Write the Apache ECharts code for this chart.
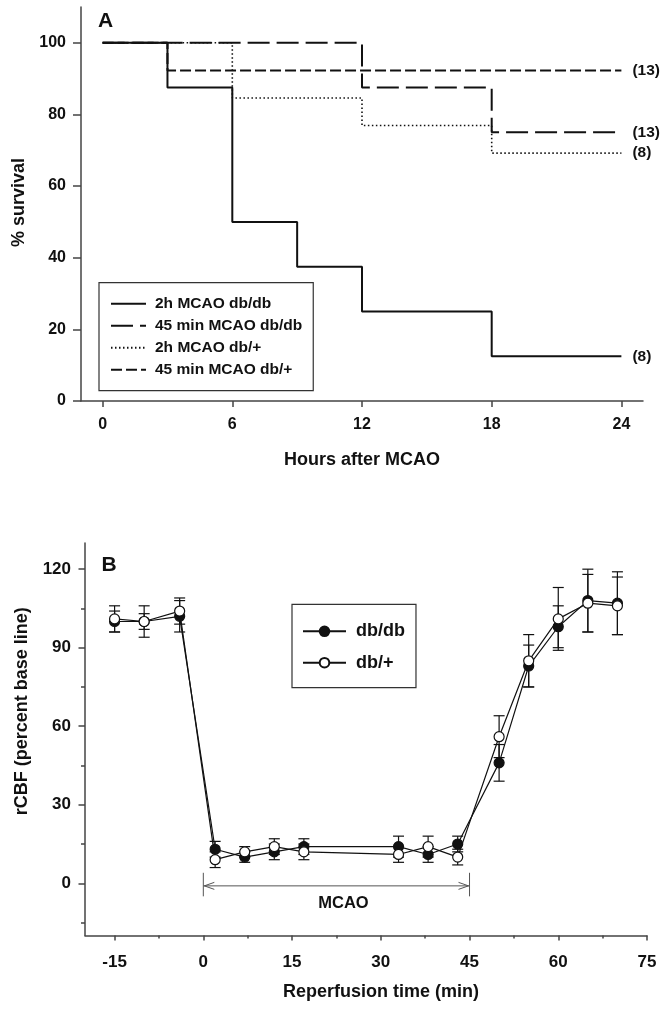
<!DOCTYPE html>
<html><head><meta charset="utf-8">
<script src="https://cdn.jsdelivr.net/npm/echarts@6/dist/echarts.min.js"></script>
<style>html,body{margin:0;padding:0;background:#fff}#c{width:666px;height:1010px}</style>
</head><body><div id="c"></div>
<script>
// ---------- Panel A : survival ----------
const hoursTicks = [0, 6, 12, 18, 24];
const survivalTicks = [0, 20, 40, 60, 80, 100];
const seriesNamesA = ['2h MCAO db/db', '45 min MCAO db/db', '2h MCAO db/+', '45 min MCAO db/+'];
const surv2hDbDb = [[0, 100], [3, 87.5], [6, 50], [9, 37.5], [12, 25], [18, 12.5], [24, 12.5]];
const surv45DbDb = [[0, 100], [12, 87.5], [18, 75], [24, 75]];
const surv2hDbPlus = [[0, 100], [6, 84.6], [12, 76.9], [18, 69.2], [24, 69.2]];
const surv45DbPlus = [[0, 100], [3, 92.3], [24, 92.3]];
const endLabelsA = ['(8)', '(13)', '(8)', '(13)'];

// ---------- Panel B : rCBF ----------
const times = [-15, -10, -4, 2, 7, 12, 17, 33, 38, 43, 50, 55, 60, 65, 70];
const dbdbMean = [100, 100, 102, 13, 10, 12, 14, 14, 11, 15, 46, 83, 98, 108, 107];
const dbdbErr = [4, 3, 6, 3, 2, 3, 3, 4, 3, 3, 7, 8, 8, 12, 12];
const dbplusMean = [101, 100, 104, 9, 12, 14, 12, 11, 14, 10, 56, 85, 101, 107, 106];
const dbplusErr = [5, 6, 5, 3, 2, 3, 3, 3, 4, 3, 8, 10, 12, 11, 11];
const timeTicks = [-15, 0, 15, 30, 45, 60, 75];
const timeMinorTicks = [-7.5, 7.5, 22.5, 37.5, 52.5, 67.5];
const rcbfTicks = [0, 30, 60, 90, 120];
const rcbfMinorTicks = [-15, 15, 45, 75, 105];
const mcaoPeriod = [[0, 45]];

const FONT = "'Liberation Sans', Arial, Helvetica, sans-serif";
const INK = '#111';
const AX = '#444';

const chart = echarts.init(document.getElementById('c'), null, {renderer: 'canvas'});

function survSeries(name, data, lineType, width, label) {
  return {
    name: name, type: 'line', step: 'end', xAxisIndex: 0, yAxisIndex: 0,
    data: data, symbol: 'none', silent: true,
    lineStyle: {color: INK, width: width, type: lineType},
    itemStyle: {color: INK},
    endLabel: {show: true, formatter: label, distance: 11, color: INK,
      fontFamily: FONT, fontWeight: 'bold', fontSize: 15.5}
  };
}

function errSeries(mean, err) {
  return {
    type: 'custom', xAxisIndex: 1, yAxisIndex: 1, silent: true, z: 2,
    data: times.map((t, i) => [t, mean[i] - err[i], mean[i] + err[i]]),
    encode: {x: 0, y: [1, 2]},
    renderItem: function (params, api) {
      const x = api.value(0);
      const lo = api.coord([x, api.value(1)]);
      const hi = api.coord([x, api.value(2)]);
      const hw = 5.5;
      const st = {stroke: INK, lineWidth: 1.2};
      return {type: 'group', children: [
        {type: 'line', shape: {x1: lo[0], y1: lo[1], x2: hi[0], y2: hi[1]}, style: st},
        {type: 'line', shape: {x1: lo[0] - hw, y1: lo[1], x2: lo[0] + hw, y2: lo[1]}, style: st},
        {type: 'line', shape: {x1: hi[0] - hw, y1: hi[1], x2: hi[0] + hw, y2: hi[1]}, style: st}
      ]};
    }
  };
}

const mcaoSeries = {
  type: 'custom', xAxisIndex: 1, yAxisIndex: 1, silent: true, z: 1,
  data: mcaoPeriod,
  encode: {x: [0, 1]},
  renderItem: function (params, api) {
    const a = api.coord([api.value(0), -1]);
    const b = api.coord([api.value(1), -1]);
    const top = api.coord([api.value(0), 4])[1];
    const bot = api.coord([api.value(0), -5])[1];
    const txtY = api.coord([api.value(0), -7.6])[1];
    const st = {stroke: '#555', lineWidth: 1, fill: null};
    return {type: 'group', children: [
      {type: 'line', shape: {x1: a[0], y1: a[1], x2: b[0], y2: b[1]}, style: st},
      {type: 'line', shape: {x1: a[0], y1: top, x2: a[0], y2: bot}, style: st},
      {type: 'line', shape: {x1: b[0], y1: top, x2: b[0], y2: bot}, style: st},
      {type: 'polyline', shape: {points: [[a[0] + 11, a[1] - 3.5], [a[0] + 1, a[1]], [a[0] + 11, a[1] + 3.5]]}, style: st},
      {type: 'polyline', shape: {points: [[b[0] - 11, b[1] - 3.5], [b[0] - 1, b[1]], [b[0] - 11, b[1] + 3.5]]}, style: st},
      {type: 'text', x: (a[0] + b[0]) / 2 + 7, y: txtY,
        style: {text: 'MCAO', fill: INK, font: 'bold 16.5px ' + FONT, align: 'center', verticalAlign: 'middle'}}
    ]};
  }
};

const axLine = {show: true, onZero: false, lineStyle: {color: AX, width: 1.5}};
const lblStyle = (size, margin, vals) => ({customValues: vals, margin: margin, color: INK,
  fontFamily: FONT, fontWeight: 'bold', fontSize: size});
const nameStyle = (pad) => ({color: INK, fontFamily: FONT, fontWeight: 'bold', fontSize: 18, padding: pad});

const option = {
  animation: false,
  backgroundColor: '#fff',
  grid: [
    {left: 81, right: 23, top: 7, height: 394},
    {left: 85, right: 19, top: 543, height: 392.6}
  ],
  xAxis: [
    {type: 'value', gridIndex: 0, min: -1, max: 25, axisLine: axLine,
      axisTick: {customValues: hoursTicks, length: 6, lineStyle: {color: AX, width: 1.5}},
      axisLabel: lblStyle(16, 16, hoursTicks), splitLine: {show: false},
      name: 'Hours after MCAO', nameLocation: 'middle', nameGap: 50, nameTextStyle: nameStyle([0, 0, 0, 0])},
    {type: 'value', gridIndex: 1, min: -20, max: 75, position: 'bottom', axisLine: axLine,
      axisTick: {customValues: timeTicks, length: 5, lineStyle: {color: AX, width: 1.5}},
      axisLabel: lblStyle(17, 18, timeTicks), splitLine: {show: false},
      name: 'Reperfusion time (min)', nameLocation: 'middle', nameGap: 47, nameTextStyle: nameStyle([0, 0, 0, 30])},
    {type: 'value', gridIndex: 1, min: -20, max: 75, position: 'bottom', axisLine: {show: false, onZero: false},
      axisTick: {customValues: timeMinorTicks, length: 3, lineStyle: {color: AX, width: 1.5}},
      axisLabel: {show: false}, splitLine: {show: false}}
  ],
  yAxis: [
    {type: 'value', gridIndex: 0, min: 0, max: 110, position: 'left', axisLine: axLine,
      axisTick: {customValues: survivalTicks, length: 8, lineStyle: {color: AX, width: 1.5}},
      axisLabel: lblStyle(16, 15, survivalTicks), splitLine: {show: false},
      name: '% survival', nameLocation: 'middle', nameGap: 53, nameTextStyle: nameStyle([0, 0, 0, 3])},
    {type: 'value', gridIndex: 1, min: -20, max: 130, position: 'left', axisLine: axLine,
      axisTick: {customValues: rcbfTicks, length: 6.5, lineStyle: {color: AX, width: 1.5}},
      axisLabel: lblStyle(17, 14, rcbfTicks), splitLine: {show: false},
      name: 'rCBF (percent base line)', nameLocation: 'middle', nameGap: 54, nameTextStyle: nameStyle([0, 0, 0, 56])},
    {type: 'value', gridIndex: 1, min: -20, max: 130, position: 'left', axisLine: {show: false, onZero: false},
      axisTick: {customValues: rcbfMinorTicks, length: 4, lineStyle: {color: AX, width: 1.5}},
      axisLabel: {show: false}, splitLine: {show: false}}
  ],
  legend: [
    {data: seriesNamesA, orient: 'vertical', left: 99, top: 282.7, padding: [13, 11, 13, 11],
      itemWidth: 35, itemHeight: 14, itemGap: 6, borderColor: '#333', borderWidth: 1.2,
      selectedMode: false,
      itemStyle: {color: 'rgba(0,0,0,0)', borderColor: 'rgba(0,0,0,0)', borderWidth: 0, opacity: 0},
      textStyle: {color: INK, fontFamily: FONT, fontWeight: 'bold', fontSize: 15.5, lineHeight: 14, padding: [0, 0, 0, 4]}},
    {data: ['db/db', 'db/+'], orient: 'vertical', left: 292, top: 604.3, padding: [18, 11, 16, 10],
      itemWidth: 43, itemHeight: 12, itemGap: 13.4, borderColor: '#333', borderWidth: 1.2,
      selectedMode: false,
      textStyle: {color: INK, fontFamily: FONT, fontWeight: 'bold', fontSize: 18, lineHeight: 12, padding: [0, 0, 0, 5]}}
  ],
  graphic: [
    {type: 'text', left: 98, top: 11, style: {text: 'A', fill: INK, font: 'bold 21px ' + FONT}},
    {type: 'text', left: 101.5, top: 555, style: {text: 'B', fill: INK, font: 'bold 21px ' + FONT}}
  ],
  series: [
    survSeries(seriesNamesA[0], surv2hDbDb, 'solid', 2, endLabelsA[0]),
    survSeries(seriesNamesA[1], surv45DbDb, [22, 7], 2, endLabelsA[1]),
    survSeries(seriesNamesA[2], surv2hDbPlus, [1.5, 2.5], 1.6, endLabelsA[2]),
    survSeries(seriesNamesA[3], surv45DbPlus, [11, 4], 2, endLabelsA[3]),
    mcaoSeries,
    errSeries(dbdbMean, dbdbErr),
    errSeries(dbplusMean, dbplusErr),
    {name: 'db/db', type: 'line', xAxisIndex: 1, yAxisIndex: 1, z: 3, silent: true,
      data: times.map((t, i) => [t, dbdbMean[i]]), symbol: 'circle', symbolSize: 10,
      lineStyle: {color: INK, width: 1.2},
      itemStyle: {color: INK, borderColor: INK, borderWidth: 1.2}},
    {name: 'db/+', type: 'line', xAxisIndex: 1, yAxisIndex: 1, z: 4, silent: true,
      data: times.map((t, i) => [t, dbplusMean[i]]), symbol: 'circle', symbolSize: 10,
      lineStyle: {color: INK, width: 1.2},
      itemStyle: {color: '#fff', borderColor: INK, borderWidth: 1.2}}
  ]
};
chart.setOption(option);
</script>
</body></html>
